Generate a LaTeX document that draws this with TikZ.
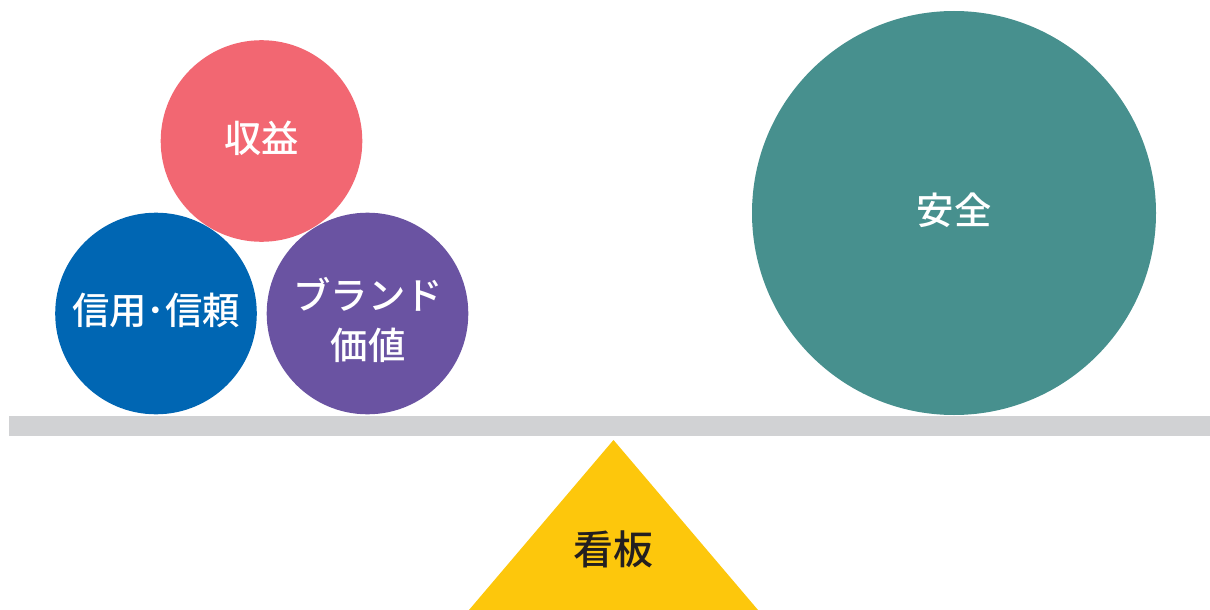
\documentclass[tikz,border=0pt]{standalone}
\usepackage{fontspec}
\setmainfont{Noto Sans CJK JP}[UprightFont=* Medium, BoldFont=* Bold]
\definecolor{cpink}{HTML}{F26772}
\definecolor{cblue}{HTML}{0066B3}
\definecolor{cpurple}{HTML}{6A53A2}
\definecolor{cteal}{HTML}{47908E}
\definecolor{cbar}{HTML}{D1D2D4}
\definecolor{cyellow}{HTML}{FDC70C}
\definecolor{ctext}{HTML}{231F20}
\tikzset{
  ball/.style={circle, inner sep=0pt, minimum size=151.2pt},
  bigball/.style={circle, inner sep=0pt, minimum size=303pt},
  wlabel/.style={text=white, font=\fontsize{28}{38}\selectfont, align=center, inner sep=0pt},
  dlabel/.style={text=ctext, font=\fontsize{30}{38}\selectfont, inner sep=0pt}
}
\begin{document}
\begin{tikzpicture}[x=0.75pt, y=-0.75pt]
\useasboundingbox (0,0) rectangle (1210,610);
\fill[white] (0,0) rectangle (1210,610);
% beam
\fill[cbar] (9,416) rectangle (1210,436);
% fulcrum
\fill[cyellow] (613.5,440) -- (758,610) -- (469,610) -- cycle;
\node[dlabel] (kanban) at (613.5,549) {看板};
% circles
\node[ball, fill=cpink] (shueki) at (261.5,141) {};
\node[ball, fill=cblue] (shinyo) at (156,313.5) {};
\node[ball, fill=cpurple] (brand) at (367.5,313.5) {};
\node[bigball, fill=cteal] (anzen) at (954,213) {};
% labels
\node[wlabel] (t1) at (261.5,138) {収益};
\node[wlabel] (t2) at (156,310) {信用･信頼};
\node[wlabel] (t3) at (368,320) {ブランド\\価値};
\node[wlabel] (t4) at (954,210) {安全};
\end{tikzpicture}
\end{document}
